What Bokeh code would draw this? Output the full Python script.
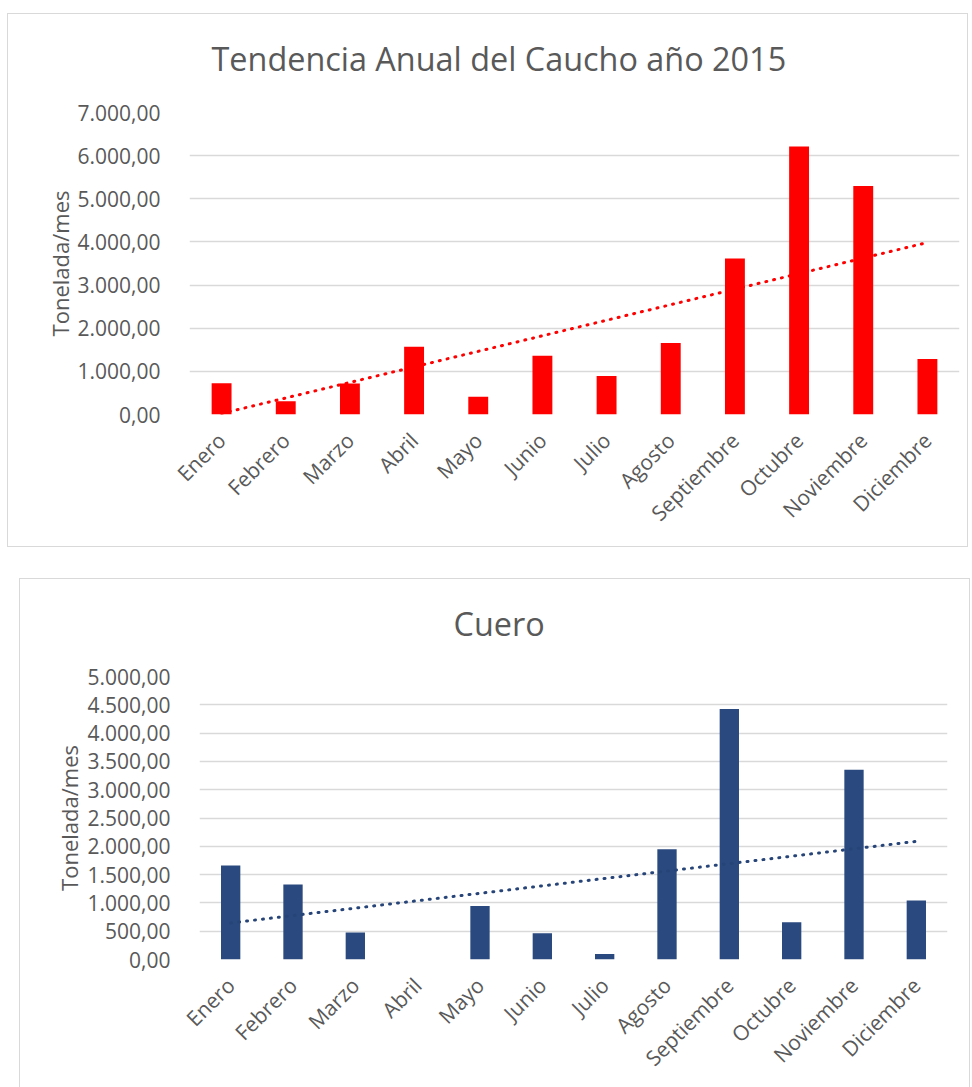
import numpy as np
from bokeh.plotting import figure
from bokeh.models import (Range1d, FactorRange, FixedTicker, CustomJSTickFormatter, Spacer,
                          ColumnDataSource, Title)
from bokeh.layouts import column, row
from bokeh.embed import file_html
from bokeh.resources import INLINE

# ---------------- data ----------------
meses = ["Enero", "Febrero", "Marzo", "Abril", "Mayo", "Junio", "Julio",
         "Agosto", "Septiembre", "Octubre", "Noviembre", "Diciembre"]
caucho = [725, 308, 719, 1570, 414, 1359, 890, 1656, 3617, 6211, 5297, 1289]
cuero = [1659, 1327, 479, 0, 947, 462, 95, 1949, 4425, 658, 3353, 1043]
caucho_ticks = [0, 1000, 2000, 3000, 4000, 5000, 6000, 7000]
cuero_ticks = [0, 500, 1000, 1500, 2000, 2500, 3000, 3500, 4000, 4500, 5000]

TXT = "#595959"
GRID = "#d9d9d9"
FONT = "Open Sans"

fmt_code = """
const s = Math.round(tick).toString().replace(/\\B(?=(\\d{3})+(?!\\d))/g, '.');
return s + ',00';
"""


def make_chart(title, values, ticks, bar_color, trend_color, width, height,
               bl, br, bt, bb, title_offset, gap, label_standoff):
    p = figure(width=width, height=height, output_backend="svg", toolbar_location=None,
               x_range=FactorRange(*meses), y_range=Range1d(0, ticks[-1]),
               min_border_left=bl, min_border_right=br, min_border_top=bt,
               min_border_bottom=bb)
    p.styles = {"border": "1px solid #d9d9d9"}
    src = ColumnDataSource(dict(mes=meses, val=values))
    p.vbar(x="mes", top="val", width=0.31, source=src, fill_color=bar_color,
           line_color=None)
    xs = np.arange(1, 13)
    k, b = np.polyfit(xs, np.array(values, dtype=float), 1)
    trend = (k * xs + b).tolist()
    p.line(x=meses, y=trend, line_color=trend_color, line_width=3,
           line_dash="1 7", line_cap="round")

    # empty panel between the title and the plot area (spacing only)
    p.add_layout(Title(text=" ", text_font_size="1px", standoff=gap), "above")

    p.title.text = title
    p.title.align = "left"
    p.title.offset = title_offset
    p.title.standoff = 0
    p.title.text_font = FONT
    p.title.text_font_size = "32.4px"
    p.title.text_font_style = "normal"
    p.title.text_color = TXT

    p.outline_line_color = None
    p.xgrid.grid_line_color = None
    p.ygrid.grid_line_color = GRID
    p.ygrid.grid_line_width = 1.5
    p.yaxis.ticker = FixedTicker(ticks=ticks)
    p.yaxis.formatter = CustomJSTickFormatter(code=fmt_code)
    for ax in (p.xaxis, p.yaxis):
        ax.axis_line_color = None
        ax.major_tick_line_color = None
        ax.minor_tick_line_color = None
        ax.major_label_text_font = FONT
        ax.major_label_text_font_size = "21px"
        ax.major_label_text_color = TXT
    p.yaxis.major_label_standoff = 23
    p.yaxis.axis_label = "Tonelada/mes"
    p.yaxis.axis_label_text_font = FONT
    p.yaxis.axis_label_text_font_size = "22px"
    p.yaxis.axis_label_text_font_style = "normal"
    p.yaxis.axis_label_text_color = TXT
    p.yaxis.axis_label_standoff = label_standoff
    p.xaxis.major_label_orientation = np.pi / 4
    p.xaxis.major_label_standoff = 16
    return p


p1 = make_chart("Tendencia Anual del Caucho año 2015", caucho, caucho_ticks,
                "#ff0000", "#ff0000", 961, 534, 181, 10, 98, 134, 22, 30, 0)
p2 = make_chart("Cuero", cuero, cuero_ticks,
                "#2a4a7f", "#264478", 951, 510, 179, 24, 97, 130, 254, 29, 1)

layout = column(
    Spacer(height=13),
    row(Spacer(width=7), p1),
    Spacer(height=31),
    row(Spacer(width=19), p2),
)

with open("out.html", "w") as f:
    f.write(file_html(layout, INLINE))
